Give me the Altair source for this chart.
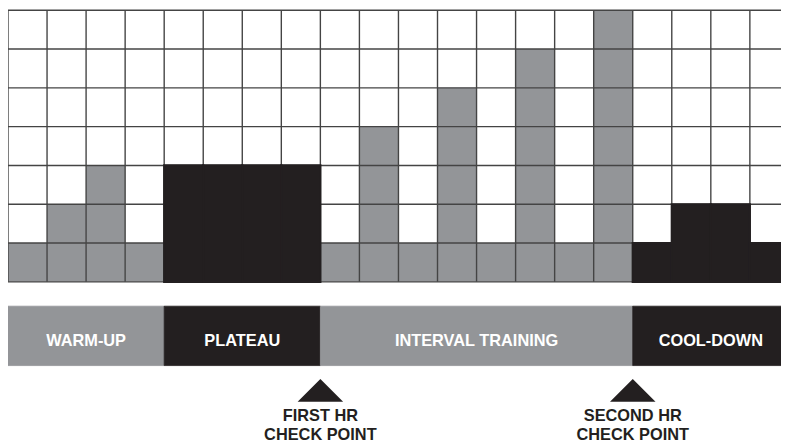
import altair as alt
import pandas as pd

# ---- data ----
heights = [1, 2, 3, 1, 3, 3, 3, 3, 1, 4, 1, 5, 1, 6, 1, 7, 1, 2, 2, 1]
phases = ["WARM-UP", "PLATEAU", "INTERVAL TRAINING", "COOL-DOWN"]
phase_start = [0, 4, 8, 16]
phase_end = [4, 8, 16, 20]
phase_tone = ["light", "dark", "light", "dark"]
checkpoint_at = [8, 16]
checkpoint_line1 = ["FIRST HR", "SECOND HR"]
checkpoint_line2 = ["CHECK POINT", "CHECK POINT"]
n_cols = 20
n_rows = 7

GRAY = "#939598"
DARK = "#231f20"

# ---- layout (in pixels, converted to scale units) ----
W, H = 781, 439
COL = 39.45
ROW = 39.2
XMAX = W / COL
YTOP = n_rows
YMIN = n_rows - H / ROW


def yu(px):
    # plot-pixel (from top) -> row units
    return n_rows - px / ROW


band_top, band_bot = yu(299), yu(359)
band_mid = yu(334)
tri_y = yu(384)
lab1_y = yu(415)
lab2_y = yu(434)

# ---- tables ----
def tone_of(i):
    for s, e, t in zip(phase_start, phase_end, phase_tone):
        if s <= i < e:
            return t
    return "light"

bars = pd.DataFrame({
    "c": list(range(n_cols)),
    "c2": [i + 1 for i in range(n_cols)],
    "y0": [0] * n_cols,
    "h": heights,
    "tone": [tone_of(i) for i in range(n_cols)],
})

vlines = pd.DataFrame({"c": list(range(n_cols + 1)), "y0": 0, "y1": n_rows})
hlines = pd.DataFrame({"r": list(range(n_rows + 1)), "c0": 0, "c1": n_cols})

band = pd.DataFrame({
    "phase": phases, "s": phase_start, "e": phase_end, "tone": phase_tone,
    "mid": [(s + e) / 2 for s, e in zip(phase_start, phase_end)],
    "yt": band_top, "yb": band_bot, "ym": band_mid,
})

checks = pd.DataFrame({"c": checkpoint_at, "l1": checkpoint_line1,
                       "l2": checkpoint_line2,
                       "ty": tri_y, "y1": lab1_y, "y2": lab2_y})

xs = alt.Scale(domain=[0, XMAX], nice=False, zero=False)
ys = alt.Scale(domain=[YMIN, YTOP], nice=False, zero=False)

tone_scale = alt.Scale(domain=["light", "dark"], range=[GRAY, DARK])

gray_bars = alt.Chart(bars).transform_filter(alt.datum.tone == "light").mark_rect().encode(
    x=alt.X("c:Q", scale=xs, axis=None), x2="c2:Q",
    y=alt.Y("y0:Q", scale=ys, axis=None), y2="h:Q",
    color=alt.value(GRAY),
)

grid_v = alt.Chart(vlines).mark_rule(color="#444444", strokeWidth=1.4).encode(
    x=alt.X("c:Q", scale=xs, axis=None),
    y=alt.Y("y0:Q", scale=ys, axis=None), y2="y1:Q",
)
grid_h = alt.Chart(hlines).mark_rule(color="#444444", strokeWidth=1.4).encode(
    y=alt.Y("r:Q", scale=ys, axis=None),
    x=alt.X("c0:Q", scale=xs, axis=None), x2="c1:Q",
)

dark_bars = alt.Chart(bars).transform_filter(alt.datum.tone == "dark").mark_rect(
    stroke=DARK, strokeWidth=2.2,
).encode(
    x=alt.X("c:Q", scale=xs, axis=None), x2="c2:Q",
    y=alt.Y("y0:Q", scale=ys, axis=None), y2="h:Q",
    color=alt.value(DARK),
)

band_rects = alt.Chart(band).mark_rect(strokeWidth=0.8).encode(
    x=alt.X("s:Q", scale=xs, axis=None), x2="e:Q",
    y=alt.Y("yt:Q", scale=ys, axis=None), y2="yb:Q",
    color=alt.Color("tone:N", scale=tone_scale, legend=None),
    stroke=alt.Stroke("tone:N", scale=tone_scale, legend=None),
)

band_text = alt.Chart(band).mark_text(
    font="Liberation Sans", fontWeight="bold", fontSize=16.5, color="white",
    align="center", baseline="middle",
).encode(
    x=alt.X("mid:Q", scale=xs, axis=None),
    y=alt.Y("ym:Q", scale=ys, axis=None),
    text="phase:N",
)

tris = alt.Chart(checks).mark_point(
    shape="M-1,0.5L0,-0.5L1,0.5Z", filled=True, opacity=1, color=DARK, size=2116,
).encode(
    x=alt.X("c:Q", scale=xs, axis=None),
    y=alt.Y("ty:Q", scale=ys, axis=None),
)

text_style = dict(font="Liberation Sans", fontWeight="bold", fontSize=16.5,
                  color=DARK, align="center", baseline="alphabetic")

check_text1 = alt.Chart(checks).mark_text(**text_style).encode(
    x=alt.X("c:Q", scale=xs, axis=None),
    y=alt.Y("y1:Q", scale=ys, axis=None),
    text="l1:N",
)
check_text2 = alt.Chart(checks).mark_text(**text_style).encode(
    x=alt.X("c:Q", scale=xs, axis=None),
    y=alt.Y("y2:Q", scale=ys, axis=None),
    text="l2:N",
)

chart = alt.layer(
    gray_bars, grid_v, grid_h, dark_bars, band_rects, band_text, tris,
    check_text1, check_text2,
).properties(
    width=W, height=H,
    autosize=alt.AutoSizeParams(type="none"),
    padding=0,
    background="white",
).configure_view(stroke=None)

chart.save("out.html", embed_options={"renderer": "svg", "actions": False})
